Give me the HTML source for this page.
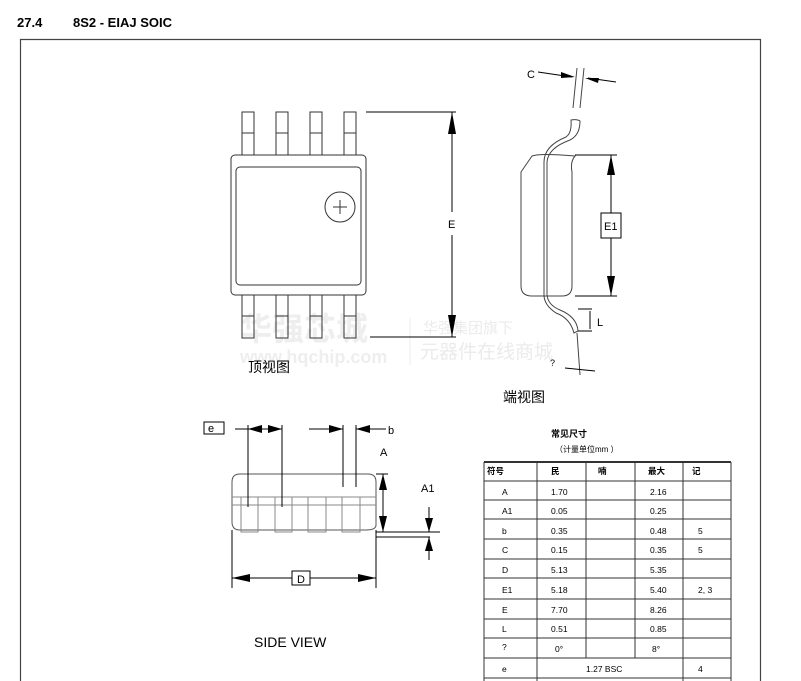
<!DOCTYPE html>
<html><head><meta charset="utf-8"><style>
body{margin:0;background:#fff;}
svg{display:block;font-family:"Liberation Sans","Noto Sans CJK SC",sans-serif;}
</style></head><body>
<svg width="801" height="681" viewBox="0 0 801 681">
<text x="17" y="27" font-size="13" font-weight="bold">27.4</text>
<text x="73" y="27" font-size="13" font-weight="bold">8S2 - EIAJ SOIC</text>
<path d="M20.5,681V39.5H760.5V681" fill="none" stroke="#444" stroke-width="1.2"/>
<!-- watermark -->
<text x="240" y="340" font-size="32" font-weight="bold" fill="#eeeeee">华强芯城</text>
<text x="240" y="363" font-size="18" font-weight="bold" fill="#eeeeee">www.hqchip.com</text>
<path d="M410,318V365" stroke="#ececec"/>
<text x="423" y="333" font-size="15" fill="#ebebeb">华强集团旗下</text>
<text x="420" y="358" font-size="19" fill="#ebebeb">元器件在线商城</text>
<!-- top view -->
<g fill="none" stroke="#333" stroke-width="1">
<rect x="242" y="112" width="12" height="44" fill="#fff"/><rect x="276" y="112" width="12" height="44" fill="#fff"/><rect x="310" y="112" width="12" height="44" fill="#fff"/><rect x="344" y="112" width="12" height="44" fill="#fff"/>
<rect x="242" y="294" width="12" height="44"/><rect x="276" y="294" width="12" height="44"/><rect x="310" y="294" width="12" height="44"/><rect x="344" y="294" width="12" height="44"/>
<rect x="231" y="155" width="135" height="140" rx="4" fill="#fff"/>
<rect x="236" y="167" width="125" height="118" rx="4"/>
<circle cx="340" cy="207" r="15"/>
</g>
<g stroke="#333"><path d="M242,133h12M276,133h12M310,133h12M344,133h12M242,316h12M276,316h12M310,316h12M344,316h12M333,207h14M340,200v14"/></g>
<path d="M366,112H456M370,337H456" stroke="#000"/>
<path d="M452,112V212M452,235V337" stroke="#000" fill="none"/>
<path d="M452,112l-4,22h8z M452,337l-4,-22h8z" fill="#000"/>
<text x="448" y="228" font-size="11">E</text>
<text x="248" y="372" font-size="14">顶视图</text>
<!-- end view -->
<g fill="none" stroke="#444" stroke-width="1">
<path d="M532,156Q540,153 575,156Q570,162 572,172L572,286Q572,296 562,296L532,296Q521,296 521,286L521,172z"/>
<path d="M571,120Q577,119 580,121Q580,135 570,140Q548,148 547,162L547,295Q548,305 560,310Q577,317 578,331L574,333Q570,318 556,313Q544,305 544,295L544,162Q544,146 566,137Q572,133 571,120z"/>
<path d="M573,108L577,68M580,108L584,68M577,333L580,375"/>
</g>
<path d="M538,72L572,77M588,78L616,82" stroke="#000" fill="none"/>
<path d="M575,77l-14,-5v6z M585,78l14,0l-1,5z" fill="#000"/>
<text x="527" y="78" font-size="11">C</text>
<path d="M575,155H617M575,296H617" stroke="#000"/>
<path d="M611,155V213M611,238V296" stroke="#000"/>
<path d="M611,155l-4,20h8z M611,296l-4,-20h8z" fill="#000"/>
<rect x="601" y="213" width="20" height="25" fill="#fff" stroke="#000"/>
<text x="604" y="230" font-size="11">E1</text>
<path d="M578,309H592M578,331H592M590,311V329" stroke="#000"/>
<text x="597" y="326" font-size="11">L</text>
<text x="550" y="366" font-size="9">?</text>
<path d="M565,368L595,371" stroke="#000"/>
<text x="503" y="402" font-size="14">端视图</text>
<!-- side view -->
<rect x="204" y="422" width="20" height="12" fill="#fff" stroke="#000"/>
<text x="208" y="432" font-size="11">e</text>
<g fill="none" stroke="#555">
<path d="M240,474H368Q376,474 376,482V525Q376,530 366,530H240Q232,530 232,522V482Q232,474 240,474z"/>
<path d="M232,497H376M232,505H376" stroke="#888"/>
<path d="M241,497h17v35h-17zM275,497h17v35h-17zM308,497h18v35h-18zM342,497h18v35h-18z" stroke="#888"/>
</g>
<path d="M248,425V507M282,425V507M343,425V487M356,425V487" stroke="#000"/>
<path d="M235,429H282M309,429H343M356,429H386" stroke="#000"/>
<path d="M248,429l14,-4v8z M282,429l-14,-4v8z M343,429l-14,-4v8z M356,429l14,-4v8z" fill="#000"/>
<text x="388" y="434" font-size="11">b</text>
<path d="M376,474H388M376,532H440M376,537H430" stroke="#000"/>
<path d="M383,474V532" stroke="#000"/>
<path d="M383,474l-4,16h8z M383,532l-4,-16h8z" fill="#000"/>
<text x="380" y="456" font-size="11">A</text>
<text x="421" y="492" font-size="11">A1</text>
<path d="M429,507V532M429,537V560" stroke="#000"/>
<path d="M429,532l-4,-14h8z M429,537l-4,14h8z" fill="#000"/>
<path d="M232,530V588M376,530V588M232,578H292M310,578H376" stroke="#000"/>
<path d="M232,578l18,-4v8z M376,578l-18,-4v8z" fill="#000"/>
<rect x="292" y="571" width="18" height="14" fill="#fff" stroke="#000"/>
<text x="297" y="583" font-size="11">D</text>
<text x="254" y="647" font-size="14">SIDE VIEW</text>
<!-- table -->
<text x="551" y="437" font-size="9" font-weight="bold">常见尺寸</text>
<text x="555" y="452" font-size="8">（计量单位mm ）</text>
<g stroke="#333" fill="none">
<path d="M484,462H731" stroke-width="2"/>
<path d="M484,481H731M484,500H731M484,519H731M484,539H731M484,559H731M484,578H731M484,599H731M484,619H731M484,638H731M484,658H731M484,678H731"/>
<path d="M484,462V681M731,462V681M537,462V681M586,462V658M635,462V658M683,462V681"/>
</g>
<g font-size="8.5">
<text x="487" y="474" font-weight="bold">符号</text><text x="551" y="474" font-weight="bold">民</text><text x="598" y="474" font-weight="bold">喃</text><text x="648" y="474" font-weight="bold">最大</text><text x="692" y="474" font-weight="bold">记</text>
<text x="502" y="495">A</text><text x="551" y="495">1.70</text><text x="650" y="495">2.16</text>
<text x="502" y="514">A1</text><text x="551" y="514">0.05</text><text x="650" y="514">0.25</text>
<text x="502" y="534">b</text><text x="551" y="534">0.35</text><text x="650" y="534">0.48</text><text x="698" y="534">5</text>
<text x="502" y="553">C</text><text x="551" y="553">0.15</text><text x="650" y="553">0.35</text><text x="698" y="553">5</text>
<text x="502" y="573">D</text><text x="551" y="573">5.13</text><text x="650" y="573">5.35</text>
<text x="502" y="593">E1</text><text x="551" y="593">5.18</text><text x="650" y="593">5.40</text><text x="698" y="593">2, 3</text>
<text x="502" y="613">E</text><text x="551" y="613">7.70</text><text x="650" y="613">8.26</text>
<text x="502" y="632">L</text><text x="551" y="632">0.51</text><text x="650" y="632">0.85</text>
<text x="502" y="650">?</text><text x="555" y="652">0°</text><text x="652" y="652">8°</text>
<text x="502" y="672">e</text><text x="586" y="672">1.27 BSC</text><text x="698" y="672">4</text>
</g>
</svg>
</body></html>
